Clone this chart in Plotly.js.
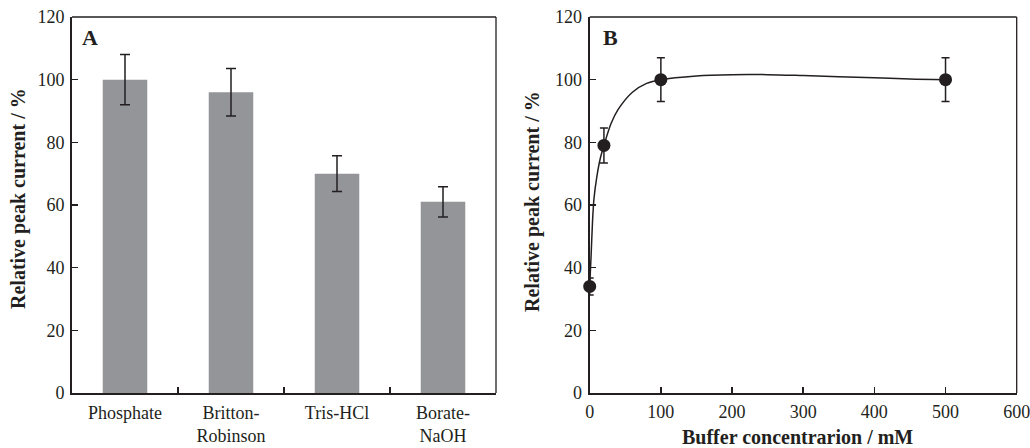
<!DOCTYPE html>
<html>
<head>
<meta charset="utf-8">
<script src="https://cdn.plot.ly/plotly-3.0.1.min.js"></script>
<style>html,body{margin:0;padding:0;background:#fff;}#chart{width:1030px;height:448px;}</style>
</head>
<body>
<div id="chart"></div>
<script>
// Panel A data
const buffers = ["Phosphate", "Britton-<br>Robinson", "Tris-HCl", "Borate-<br>NaOH"];
const bufferCurrent = [100, 96, 70, 61];
const bufferError = [8, 7.6, 5.7, 4.8];

// Panel B data
const concentration = [0, 20, 100, 500];
const concCurrent = [34, 79, 100, 100];
const concError = [2.7, 5.6, 7, 7];

// Panel B fitted curve
const curveX = [0, 2, 4, 6, 10, 15, 20, 30, 40, 60, 80, 100, 150, 200, 250, 300, 400, 450, 500];
const curveY = [34, 44, 55, 62, 69, 75, 79, 86, 90.5, 96, 98.8, 100, 101.2, 101.6, 101.6, 101.3, 100.6, 100.2, 100];

const ink = "#231f20";
const fontFam = "Liberation Serif, Times New Roman, serif";

const traces = [
  {
    type: "bar", x: buffers, y: bufferCurrent, xaxis: "x", yaxis: "y",
    width: 0.42,
    marker: {color: "#939598", line: {width: 0}},
    error_y: {type: "data", array: bufferError, visible: true, color: ink, thickness: 1.5, width: 5},
    showlegend: false, hoverinfo: "skip"
  },
  {
    type: "scatter", mode: "lines", x: curveX, y: curveY, xaxis: "x2", yaxis: "y2",
    line: {color: ink, width: 1.5, shape: "spline", smoothing: 0.8},
    showlegend: false, hoverinfo: "skip", cliponaxis: false
  },
  {
    type: "scatter", mode: "markers", x: concentration, y: concCurrent, xaxis: "x2", yaxis: "y2",
    marker: {color: ink, size: 13},
    error_y: {type: "data", array: concError, visible: true, color: ink, thickness: 1.5, width: 4},
    showlegend: false, hoverinfo: "skip", cliponaxis: false
  }
];

const tickFont = {family: fontFam, size: 18, color: ink};
const axisCommon = {
  showline: true, linecolor: ink, linewidth: 2, mirror: false,
  ticks: "inside", ticklen: 6, tickcolor: ink, tickwidth: 1.5,
  showgrid: false, zeroline: false, tickfont: tickFont, fixedrange: true,
  ticklabeloverflow: "allow"
};

function frame(xr, yr) {
  return [
    {type: "line", xref: xr + " domain", yref: yr + " domain", x0: 0, x1: 1, y0: 1, y1: 1,
     line: {color: ink, width: 1.3}},
    {type: "line", xref: xr + " domain", yref: yr + " domain", x0: 1, x1: 1, y0: 0, y1: 1,
     line: {color: ink, width: 1.3}}
  ];
}

const layout = {
  width: 1030, height: 448,
  margin: {l: 0, r: 0, t: 17, b: 55},
  paper_bgcolor: "#fff", plot_bgcolor: "#fff",
  font: {family: fontFam, color: ink},
  xaxis: Object.assign({}, axisCommon, {
    domain: [72/1030, 496/1030], type: "category", tickson: "boundaries",
    ticklabelstandoff: 2, anchor: "y"
  }),
  yaxis: Object.assign({}, axisCommon, {
    domain: [0, 1], range: [0, 120], dtick: 20, anchor: "x", ticklabelstandoff: 2
  }),
  xaxis2: Object.assign({}, axisCommon, {
    domain: [589.7/1030, 1016.7/1030], range: [0, 600], dtick: 100, anchor: "y2",
    ticklabelstandoff: 1
  }),
  yaxis2: Object.assign({}, axisCommon, {
    domain: [0, 1], range: [0, 120], dtick: 20, anchor: "x2", ticklabelstandoff: 2
  }),
  shapes: frame("x", "y").concat(frame("x2", "y2")),
  annotations: [
    {text: "<b>A</b>", xref: "paper", yref: "paper", x: 80/1030, y: 1, yshift: -6,
     xanchor: "left", yanchor: "top", showarrow: false, font: {family: fontFam, size: 22, color: ink}},
    {text: "<b>B</b>", xref: "paper", yref: "paper", x: 601/1030, y: 1, yshift: -6,
     xanchor: "left", yanchor: "top", showarrow: false, font: {family: fontFam, size: 22, color: ink}},
    {text: "<b>Relative peak current / %</b>", xref: "paper", yref: "paper", x: 18/1030, y: (393-199)/376,
     xanchor: "center", yanchor: "middle", textangle: -90, showarrow: false,
     font: {family: fontFam, size: 20, color: ink}},
    {text: "<b>Relative peak current / %</b>", xref: "paper", yref: "paper", x: 532/1030, y: (393-202)/376,
     xanchor: "center", yanchor: "middle", textangle: -90, showarrow: false,
     font: {family: fontFam, size: 20, color: ink}},
    {text: "<b>Buffer concentrarion / mM</b>", xref: "paper", yref: "paper", x: 797/1030, y: -(437-393)/376,
     xanchor: "center", yanchor: "middle", showarrow: false,
     font: {family: fontFam, size: 20, color: ink}}
  ]
};

Plotly.newPlot("chart", traces, layout, {displayModeBar: false, staticPlot: true});
</script>
</body>
</html>
